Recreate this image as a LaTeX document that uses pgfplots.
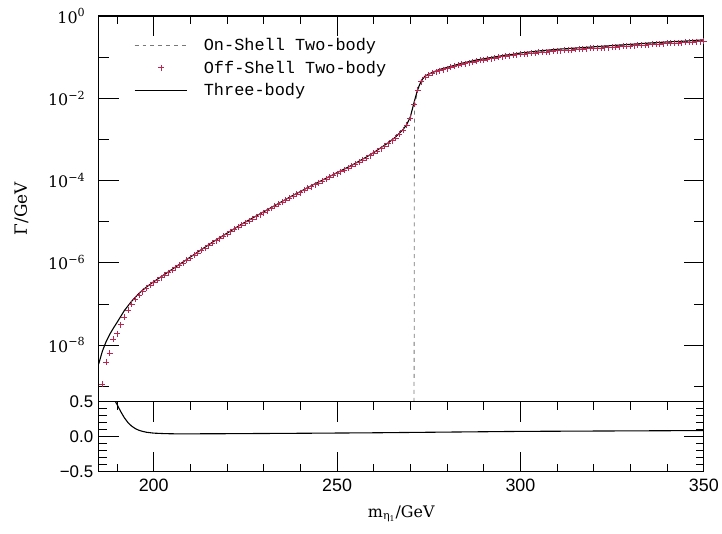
\documentclass[border=0pt]{standalone}
\usepackage{fontspec}
\setmainfont{DejaVu Serif}
\newfontfamily\labelfont{Liberation Mono}
\newfontfamily\numfont{Liberation Sans}
\usepackage{pgfplots}
\usepackage{pgfplotstable}
\pgfplotsset{compat=1.18}

\definecolor{offred}{RGB}{185,40,80}
\definecolor{dashgray}{RGB}{120,120,120}

% Three-body width Gamma [GeV] versus mass [GeV]
\pgfplotstableread{
x g
185 3.47e-9
186 7.08e-9
187 1.20e-8
188 1.82e-8
189 2.57e-8
190 3.55e-8
192 6.92e-8
194 1.17e-7
196 1.82e-7
198 2.57e-7
200 3.47e-7
202 4.57e-7
204 6.03e-7
206 7.94e-7
208 1.047e-6
210 1.38e-6
212 1.82e-6
214 2.40e-6
216 3.16e-6
218 4.07e-6
220 5.25e-6
222 6.76e-6
224 8.71e-6
226 1.10e-5
228 1.38e-5
230 1.74e-5
232 2.19e-5
234 2.75e-5
236 3.47e-5
238 4.37e-5
240 5.37e-5
242 6.76e-5
244 8.32e-5
246 1.02e-4
248 1.26e-4
250 1.55e-4
252 1.91e-4
254 2.34e-4
256 2.95e-4
258 3.72e-4
260 4.79e-4
262 6.31e-4
264 8.32e-4
266 1.15e-3
268 1.74e-3
269 2.29e-3
270 3.55e-3
271 7.94e-3
272 1.66e-2
273 2.69e-2
274 3.47e-2
276 4.27e-2
278 5.01e-2
280 5.62e-2
282 6.31e-2
284 7.08e-2
286 7.76e-2
288 8.51e-2
290 9.12e-2
292 9.77e-2
294 1.047e-1
296 1.12e-1
298 1.17e-1
300 1.26e-1
305 1.41e-1
310 1.55e-1
315 1.66e-1
320 1.78e-1
325 1.91e-1
330 2.04e-1
335 2.19e-1
340 2.34e-1
345 2.45e-1
350 2.63e-1
}\threebody

% Off-shell two-body width
\pgfplotstableread{
x g
186 1.12e-9
187 3.89e-9
188 6.31e-9
189 1.38e-8
190 1.91e-8
191 3.16e-8
192 4.79e-8
193 7.08e-8
194 9.77e-8
195 1.29e-7
196 1.62e-7
197 2.00e-7
198 2.40e-7
199 2.85e-7
200 3.31e-7
201 3.80e-7
202 4.37e-7
203 5.01e-7
204 5.75e-7
205 6.61e-7
206 7.59e-7
207 8.71e-7
208 1.00e-6
209 1.15e-6
210 1.32e-6
211 1.51e-6
212 1.74e-6
213 2.00e-6
214 2.29e-6
215 2.63e-6
216 3.02e-6
217 3.43e-6
218 3.89e-6
219 4.42e-6
220 5.01e-6
221 5.69e-6
222 6.46e-6
223 7.33e-6
224 8.32e-6
225 9.33e-6
226 1.047e-5
227 1.17e-5
228 1.32e-5
229 1.48e-5
230 1.66e-5
231 1.86e-5
232 2.09e-5
233 2.34e-5
234 2.63e-5
235 2.95e-5
236 3.31e-5
237 3.72e-5
238 4.17e-5
239 4.62e-5
240 5.11e-5
241 5.73e-5
242 6.43e-5
243 7.13e-5
244 7.91e-5
245 8.77e-5
246 9.72e-5
247 1.08e-4
248 1.20e-4
249 1.33e-4
250 1.47e-4
251 1.63e-4
252 1.81e-4
253 2.01e-4
254 2.23e-4
255 2.50e-4
256 2.81e-4
257 3.15e-4
258 3.53e-4
259 4.01e-4
260 4.55e-4
261 5.22e-4
262 6.00e-4
263 6.89e-4
264 7.91e-4
265 9.29e-4
266 1.09e-3
267 1.34e-3
268 1.65e-3
269 2.18e-3
270 3.33e-3
271 7.08e-3
272 1.56e-2
273 2.53e-2
274 3.26e-2
275 3.66e-2
276 4.01e-2
277 4.40e-2
278 4.71e-2
279 4.99e-2
280 5.28e-2
281 5.60e-2
282 5.93e-2
283 6.28e-2
284 6.65e-2
285 6.97e-2
286 7.29e-2
287 7.64e-2
288 8.00e-2
289 8.28e-2
290 8.57e-2
291 8.87e-2
292 9.18e-2
293 9.51e-2
294 9.84e-2
295 1.02e-1
296 1.05e-1
297 1.08e-1
298 1.10e-1
299 1.14e-1
300 1.18e-1
301 1.19e-1
302 1.21e-1
303 1.24e-1
304 1.27e-1
305 1.30e-1
306 1.32e-1
307 1.33e-1
308 1.36e-1
309 1.39e-1
310 1.43e-1
311 1.44e-1
312 1.46e-1
313 1.48e-1
314 1.49e-1
315 1.53e-1
316 1.55e-1
317 1.56e-1
318 1.60e-1
319 1.62e-1
320 1.64e-1
321 1.66e-1
322 1.67e-1
323 1.69e-1
324 1.71e-1
325 1.75e-1
326 1.77e-1
327 1.79e-1
328 1.84e-1
329 1.86e-1
330 1.88e-1
331 1.90e-1
332 1.92e-1
333 1.95e-1
334 1.97e-1
335 2.01e-1
336 2.04e-1
337 2.06e-1
338 2.08e-1
339 2.11e-1
340 2.16e-1
341 2.18e-1
342 2.21e-1
343 2.22e-1
344 2.23e-1
345 2.27e-1
346 2.31e-1
347 2.34e-1
348 2.37e-1
349 2.39e-1
350 2.42e-1
}\offshell

% On-shell two-body width (opens at threshold, axis floor 4.2e-10)
\pgfplotstableread{
x g
271.0 4.2e-10
271.1 6.0e-3
272 1.6e-2
274 3.4e-2
278 4.9e-2
285 7.2e-2
295 1.07e-1
310 1.50e-1
330 1.98e-1
350 2.55e-1
}\onshell

% Relative difference, lower panel (enters at the top edge)
\pgfplotstableread{
x r
189.6 0.50
190 0.46
191 0.36
192 0.27
193 0.20
194 0.15
195 0.115
196 0.09
197 0.075
198 0.063
200 0.050
203 0.043
206 0.040
210 0.040
220 0.042
240 0.048
260 0.055
280 0.065
300 0.075
320 0.080
350 0.087
}\ratio

\tikzset{tickline/.style={draw=black, line width=0.9bp}}

\pgfplotsset{
  panel/.style={
    scale only axis, width=607bp,
    xmin=185, xmax=350,
    clip=false,
    axis line style={line width=1.1bp},
    major tick style={draw=black, line width=0.9bp},
    minor tick style={draw=black, line width=0.8bp},
    major tick length=20bp, minor tick length=8bp,
    tick align=inside,
    xtick={200,250,300,350},
    minor xtick={190,210,220,230,240,260,270,280,290,310,320,330,340},
  },
  lineimage/.style={legend image code/.code={\draw[##1] (0bp,0bp) -- (53bp,0bp); \path (67bp,0bp);}},
  markimage/.style={legend image code/.code={\draw[##1] plot coordinates {(26.5bp,0bp)}; \path (0bp,0bp) (67bp,0bp);}},
}

\begin{document}
\begin{tikzpicture}
% page frame
\path (0bp,0bp) (722bp,-535bp);

\begin{axis}[panel,
  at={(99bp,-16bp)}, anchor=north west,
  height=387bp,
  ymode=log, ymin=4.2e-10, ymax=1,
  xtick pos=right, xticklabels={},
  ytick={1,1e-2,1e-4,1e-6,1e-8},
  minor ytick={1e-1,1e-3,1e-5,1e-7,1e-9},
  yticklabels={10\textsuperscript{0},10\textsuperscript{−2},10\textsuperscript{−4},10\textsuperscript{−6},10\textsuperscript{−8}},
  yticklabel style={font=\fontsize{16}{16}\selectfont, xshift=-10bp},
  ylabel={Γ/GeV},
  ylabel style={font=\fontsize{17}{17}\selectfont, at={(-67bp,0.5)}, anchor=south},
  legend style={at={(0.058,0.948)}, anchor=north west, draw=none, fill=none,
    font=\labelfont\fontsize{17}{17}\selectfont, inner sep=0pt, row sep=5bp,
    nodes={inner sep=2bp}},
  legend cell align=left,
  lineimage,
]
\addplot[dashgray, line width=0.8bp, dash pattern=on 4bp off 4bp]
  table[x=x, y=g] {\onshell};
\addlegendentry{On-Shell Two-body}
\addplot[only marks, mark=+, mark size=3bp, offred, line width=0.6bp, markimage]
  table[x=x, y=g] {\offshell};
\addlegendentry{Off-Shell Two-body}
\addplot[black, line width=1.1bp] table[x=x, y=g] {\threebody};
\addlegendentry{Three-body}
% frame ticks: mass along the top edge, decades on both sides
\pgfplotsinvokeforeach{200,250,300}{\draw[tickline] (axis cs:#1,1) -- ++(0bp,-20bp);}
\pgfplotsinvokeforeach{190,210,220,230,240,260,270,280,290,310,320,330,340}{\draw[tickline] (axis cs:#1,1) -- ++(0bp,-8bp);}
\pgfplotsinvokeforeach{1e-2,1e-4,1e-6,1e-8}{%
  \draw[tickline] (axis cs:185,#1) -- ++(20bp,0bp);
  \draw[tickline] (axis cs:350,#1) -- ++(-20bp,0bp);}
\pgfplotsinvokeforeach{1e-1,1e-3,1e-5,1e-7,1e-9}{%
  \draw[tickline] (axis cs:185,#1) -- ++(10bp,0bp);
  \draw[tickline] (axis cs:350,#1) -- ++(-10bp,0bp);}
\end{axis}

\begin{axis}[panel,
  at={(99bp,-403bp)}, anchor=north west,
  height=70bp,
  ymin=-0.5, ymax=0.5,
  xtick pos=both,
  xticklabels={200,250,300,350},
  xticklabel style={font=\numfont\fontsize{18}{18}\selectfont, yshift=-4bp},
  ytick={-0.5,0,0.5},
  minor ytick={-0.4,-0.3,-0.2,-0.1,0.1,0.2,0.3,0.4},
  yticklabels={−0.5,0.0,0.5},
  yticklabel style={font=\numfont\fontsize{17}{17}\selectfont, xshift=-2bp},
  xlabel={m\textsubscript{η\textsubscript{1}}/GeV},
  xlabel style={font=\fontsize{16}{16}\selectfont, yshift=-7bp},
]
\addplot[black, line width=1.1bp] table[x=x, y=r] {\ratio};
% frame ticks on all four edges
\pgfplotsinvokeforeach{200,250,300}{%
  \draw[tickline] (axis cs:#1,0.5) -- ++(0bp,-20bp);
  \draw[tickline] (axis cs:#1,-0.5) -- ++(0bp,20bp);}
\pgfplotsinvokeforeach{190,210,220,230,240,260,270,280,290,310,320,330,340}{%
  \draw[tickline] (axis cs:#1,0.5) -- ++(0bp,-7bp);
  \draw[tickline] (axis cs:#1,-0.5) -- ++(0bp,7bp);}
\draw[tickline] (axis cs:185,0) -- ++(20bp,0bp);
\draw[tickline] (axis cs:350,0) -- ++(-20bp,0bp);
\pgfplotsinvokeforeach{-0.4,-0.3,-0.2,-0.1,0.1,0.2,0.3,0.4}{%
  \draw[tickline] (axis cs:185,#1) -- ++(7bp,0bp);
  \draw[tickline] (axis cs:350,#1) -- ++(-7bp,0bp);}
\end{axis}
\end{tikzpicture}
\end{document}
